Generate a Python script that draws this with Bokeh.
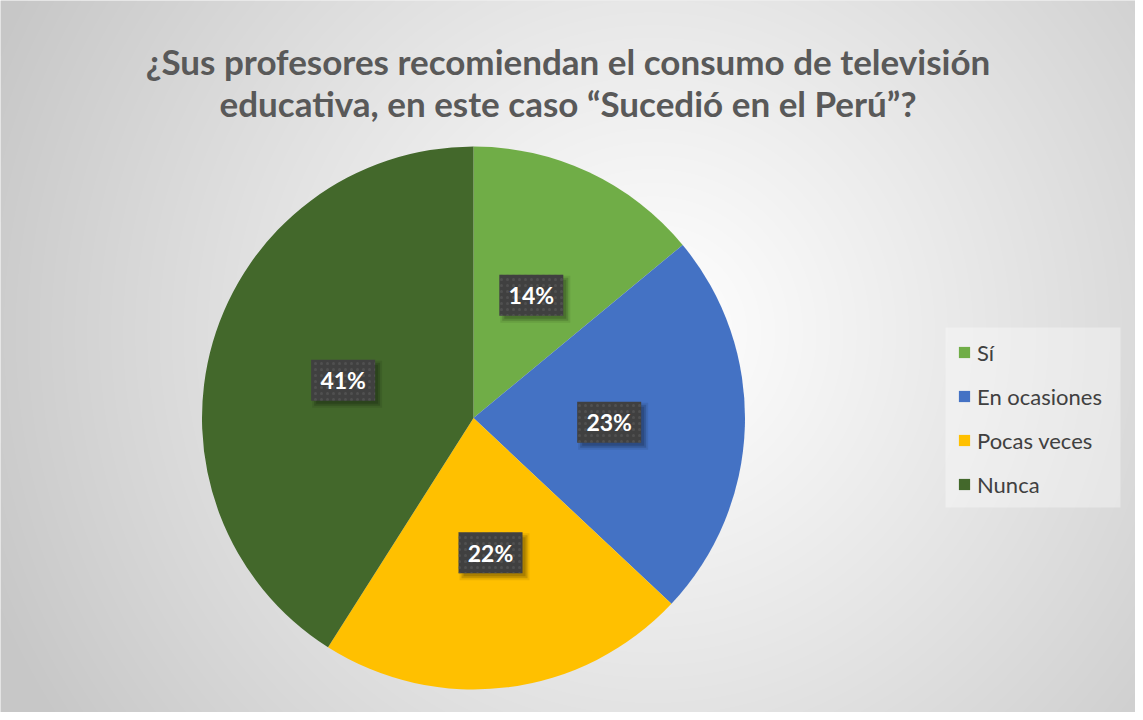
import numpy as np
from bokeh.plotting import figure
from bokeh.models import Range1d, Legend, LegendItem, ColumnDataSource
from bokeh.core.properties import value
from bokeh.embed import file_html
from bokeh.resources import INLINE

# ---- data ----
categories = ["Sí", "En ocasiones", "Pocas veces", "Nunca"]
percents = [14, 23, 22, 41]
colors = ["#70AD47", "#4472C4", "#FFC000", "#43682B"]
title_lines = ["¿Sus profesores recomiendan el consumo de televisión",
               "educativa, en este caso “Sucedió en el Perú”?"]

# ---- layout constants (pixel-like data space) ----
W, H = 1135, 712
CX, CY, R = 473.0, 294.5, 271.5

p = figure(width=W, height=H, x_range=Range1d(0, W), y_range=Range1d(0, H),
           output_backend="svg", toolbar_location=None, min_border=0)
p.axis.visible = False
p.grid.visible = False
p.outline_line_color = None
p.background_fill_color = "#e0e0e0"
p.border_fill_color = "#e0e0e0"

# radial gradient background
yy, xx = np.mgrid[0:H, 0:W]
sx = xx + 8.0
sy = 720.0 - (yy + 0.5)
d = np.sqrt((sx - 660.0) ** 2 + (sy - 340.0) ** 2)
t = np.clip(d / 720.0, 0, 1)
v = (255 - 56 * t ** 1.1).astype(np.uint32)
img = (255 << 24) | (v << 16) | (v << 8) | v
p.image_rgba(image=[img.astype(np.uint32)], x=0, y=0, dw=W, dh=H)

# wedges
tot = float(sum(percents))
fr = np.array(percents) / tot
cum = np.concatenate([[0], np.cumsum(fr)])
start = np.pi / 2 - 2 * np.pi * cum[:-1]
end = np.pi / 2 - 2 * np.pi * cum[1:]
mid = (start + end) / 2
lx = CX + 0.5 * R * np.cos(mid)
ly = CY + 0.5 * R * np.sin(mid)
src = ColumnDataSource(dict(cat=categories, start=start, end=end, color=colors,
                            lx=lx, ly=ly, sx1=lx + 4, sy1=ly - 4,
                            lab=[f"{v}%" for v in percents]))
wr = p.wedge(x=CX, y=CY, radius=R, start_angle="start", end_angle="end", direction="clock",
             fill_color="color", line_color=None, source=src)

# label boxes with soft shadow
p.rect(x="sx1", y="sy1", width=70, height=47, fill_color="black", fill_alpha=0.08, line_color=None, source=src)
p.rect(x="sx1", y="sy1", width=66, height=43, fill_color="black", fill_alpha=0.15, line_color=None, source=src)
p.rect(x="sx1", y="sy1", width=62, height=39, fill_color="black", fill_alpha=0.15, line_color=None, source=src)
p.rect(x="lx", y="ly", width=64, height=41, fill_color="#404040", line_color=None,
       hatch_pattern="dot", hatch_color="#5a5a5a", hatch_alpha=0.6, hatch_scale=6, hatch_weight=1.0,
       source=src)
p.text(x="lx", y="ly", text="lab", text_font=value("Lato"), text_font_style="bold",
       text_font_size="23px", text_color="white", text_align="center", text_baseline="middle",
       source=src)

# title
p.text(x=[W / 2, W / 2], y=[720 - 68, 720 - 110], text=title_lines, text_font=value("Lato"),
       text_font_style="bold", text_font_size="35px", text_color="#595959",
       text_align="center", text_baseline="alphabetic")

# legend background panel
p.quad(left=[945], right=[1120], bottom=[205], top=[385], fill_color="white", fill_alpha=0.35,
       line_color=None)

legend = Legend(items=[LegendItem(label=c, renderers=[wr], index=i) for i, c in enumerate(categories)],
                location=(957, 213), orientation="vertical", glyph_width=14, glyph_height=14,
                label_height=30, spacing=14, padding=8, label_standoff=6, label_width=120, margin=0,
                label_text_font="Lato", label_text_font_size="22px", label_text_color="#404040",
                background_fill_alpha=0, border_line_color=None)
p.add_layout(legend)

open("out.html", "w").write(file_html(p, INLINE))
